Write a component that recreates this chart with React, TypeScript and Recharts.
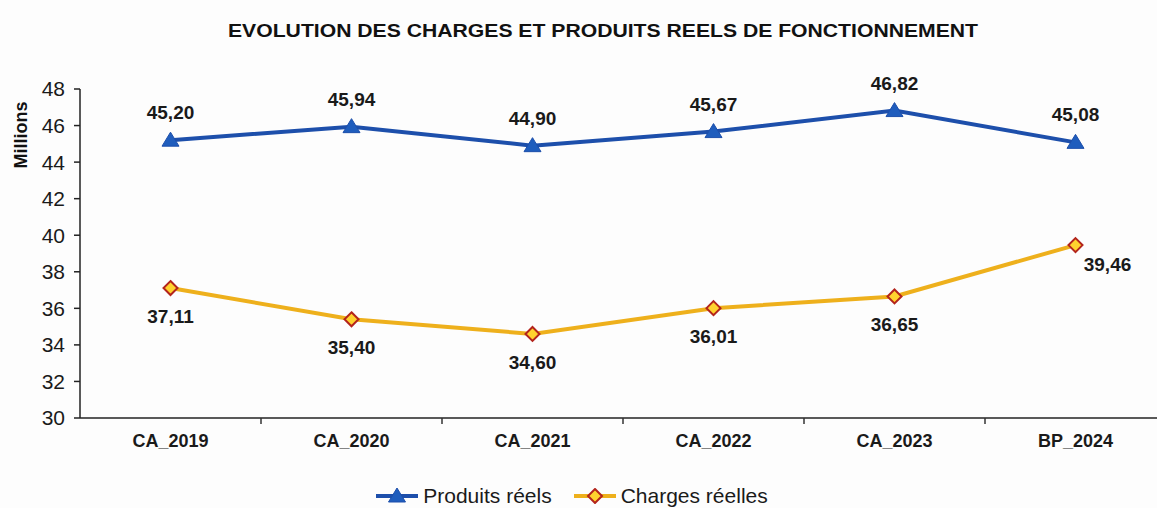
import React from 'react'
import { LineChart, Line, XAxis, YAxis, Legend, LabelList } from 'recharts'

const categories = ['CA_2019', 'CA_2020', 'CA_2021', 'CA_2022', 'CA_2023', 'BP_2024']
const produits = [45.2, 45.94, 44.9, 45.67, 46.82, 45.08]
const charges = [37.11, 35.4, 34.6, 36.01, 36.65, 39.46]
const yTicks = [30, 32, 34, 36, 38, 40, 42, 44, 46, 48]

const data = categories.map((name, i) => ({ name, produits: produits[i], charges: charges[i] }))

const W = 1172
const H = 508
const LEFT = 80
const RIGHT_MARGIN = 6
const BAND = (W - LEFT - RIGHT_MARGIN) / categories.length

const BLUE = '#1d4fab'
const BLUE_MARK = '#1f5dbd'
const ORANGE = '#eeb01c'
const DIAMOND = '#ffd22e'
const DIAMOND_EDGE = '#b3241c'
const FONT = 'Arial, "Liberation Sans", Helvetica, sans-serif'

const fmt = (v: number) => v.toFixed(2).replace('.', ',')

function Triangle(props: any) {
  const { cx, cy } = props
  if (cx == null || cy == null) return null
  return <path d={`M${cx},${cy - 8} L${cx + 8.5},${cy + 6} L${cx - 8.5},${cy + 6} Z`} fill={BLUE_MARK} stroke={BLUE} strokeWidth={1} />
}

function Diamond(props: any) {
  const { cx, cy } = props
  if (cx == null || cy == null) return null
  return <path d={`M${cx},${cy - 7} L${cx + 7},${cy} L${cx},${cy + 7} L${cx - 7},${cy} Z`} fill={DIAMOND} stroke={DIAMOND_EDGE} strokeWidth={2} />
}

function XTick(props: any) {
  const { x, y, payload } = props
  return (
    <g>
      <line x1={x + BAND / 2} x2={x + BAND / 2} y1={y - 8} y2={y - 2} stroke="#333" strokeWidth={1.5} />
      <text x={x} y={y + 21} textAnchor="middle" fontFamily={FONT} fontWeight="bold" fontSize={18} fill="#1a1a1a">
        {payload.value}
      </text>
    </g>
  )
}

function TopLabel(props: any) {
  const { x, y, value } = props
  return (
    <text x={x} y={y - 21} textAnchor="middle" fontFamily={FONT} fontWeight="bold" fontSize={19} fill="#1a1a1a">
      {fmt(value)}
    </text>
  )
}

function BottomLabel(props: any) {
  const { x, y, value, index } = props
  const last = index === categories.length - 1
  return (
    <text x={last ? x + 32 : x} y={last ? y + 26 : y + 35} textAnchor="middle" fontFamily={FONT} fontWeight="bold" fontSize={19} fill="#1a1a1a">
      {fmt(value)}
    </text>
  )
}

function LegendContent() {
  const item = (label: string, color: string, marker: React.ReactNode) => (
    <div style={{ display: 'flex', alignItems: 'center' }}>
      <svg width={42} height={16}>
        <line x1={0} x2={42} y1={8} y2={8} stroke={color} strokeWidth={4} />
        {marker}
      </svg>
      <span style={{ fontFamily: FONT, fontSize: 21, color: '#1a1a1a', marginLeft: 5 }}>{label}</span>
    </div>
  )
  return (
    <div style={{ display: 'flex', justifyContent: 'center', gap: 22, height: 24, alignItems: 'center', paddingRight: 22 }}>
      {item('Produits réels', BLUE, <Triangle cx={21} cy={8} />)}
      {item('Charges réelles', ORANGE, <Diamond cx={21} cy={8} />)}
    </div>
  )
}

export default function App() {
  return (
    <div style={{ position: 'absolute', left: 0, top: 0, width: 1157, height: 508, overflow: 'hidden', background: '#fdfdfd' }}>
      <svg width={1157} height={508} style={{ position: 'absolute', left: 0, top: 0 }}>
        <text x={603} y={37} textAnchor="middle" fontFamily={FONT} fontWeight="bold" fontSize={18} fill="#111"
          textLength={750} lengthAdjust="spacingAndGlyphs">
          EVOLUTION  DES CHARGES ET PRODUITS REELS DE FONCTIONNEMENT
        </text>
        <text x={0} y={0} transform="translate(27,135) rotate(-90)" textAnchor="middle" fontFamily={FONT} fontWeight="bold" fontSize={18} fill="#111">
          Millions
        </text>
      </svg>
      <div style={{ position: 'absolute', left: 0, top: 0 }}>
        <LineChart width={W} height={H} data={data} margin={{ top: 89, right: RIGHT_MARGIN, left: 0, bottom: 0 }}>
          <XAxis dataKey="name" height={66} tick={<XTick />} tickLine={false} axisLine={{ stroke: '#222', strokeWidth: 1.5 }}
            interval={0} padding={{ left: BAND / 2, right: BAND / 2 }} />
          <YAxis width={LEFT} domain={[30, 48]} ticks={yTicks} interval={0}
            tick={{ fontFamily: FONT, fontSize: 21, fill: '#1a1a1a' }} tickSize={6} tickMargin={9}
            tickLine={{ stroke: '#222', strokeWidth: 1.5 }} axisLine={{ stroke: '#222', strokeWidth: 1.5 }} />
          <Legend verticalAlign="bottom" height={24} content={<LegendContent />} />
          <Line dataKey="produits" name="Produits réels" stroke={BLUE} strokeWidth={4} dot={<Triangle />} isAnimationActive={false}>
            <LabelList dataKey="produits" content={<TopLabel />} />
          </Line>
          <Line dataKey="charges" name="Charges réelles" stroke={ORANGE} strokeWidth={4} dot={<Diamond />} isAnimationActive={false}>
            <LabelList dataKey="charges" content={<BottomLabel />} />
          </Line>
        </LineChart>
      </div>
    </div>
  )
}
